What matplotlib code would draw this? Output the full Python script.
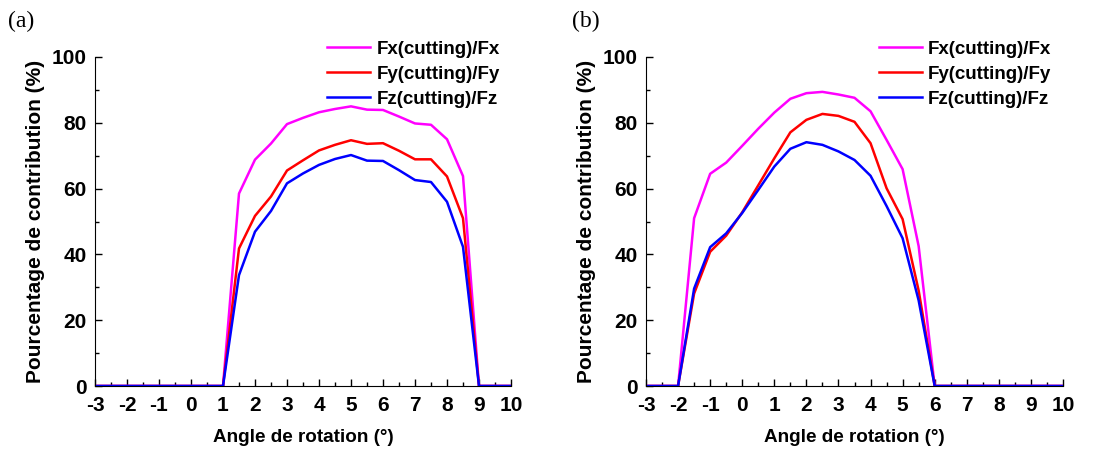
import matplotlib
matplotlib.use("Agg")
import matplotlib.pyplot as plt
from matplotlib.ticker import MultipleLocator

plt.rcParams['font.family'] = ['Liberation Sans', 'DejaVu Sans']
plt.rcParams['font.weight'] = 'bold'
plt.rcParams['axes.unicode_minus'] = False

angle = [-3, -2.5, -2, -1.5, -1, -0.5, 0, 0.5, 1, 1.5, 2, 2.5, 3, 3.5, 4, 4.5,
         5, 5.5, 6, 6.5, 7, 7.5, 8, 8.5, 9, 9.5, 10]

# panel (a)
fx_a = [0, 0, 0, 0, 0, 0, 0, 0, 0, 58.5, 68.8, 73.7, 79.6, 81.5, 83.2, 84.2,
        85.0, 84.0, 83.9, 81.9, 79.8, 79.4, 75.0, 63.8, 0, 0, 0]
fy_a = [0, 0, 0, 0, 0, 0, 0, 0, 0, 41.8, 51.7, 57.6, 65.5, 68.6, 71.6, 73.3,
        74.7, 73.6, 73.8, 71.5, 68.9, 68.9, 63.7, 51.0, 0, 0, 0]
fz_a = [0, 0, 0, 0, 0, 0, 0, 0, 0, 33.7, 46.9, 53.2, 61.6, 64.6, 67.2, 69.0,
        70.2, 68.5, 68.4, 65.6, 62.6, 62.0, 56.0, 42.3, 0, 0, 0]

# panel (b)
fx_b = [0, 0, 0, 51.0, 64.5, 67.9, 73.0, 78.2, 83.1, 87.3, 89.0, 89.4, 88.6,
        87.6, 83.5, 74.8, 65.9, 42.5, 0, 0, 0, 0, 0, 0, 0, 0, 0]
fy_b = [0, 0, 0, 28.1, 40.8, 45.7, 52.8, 61.0, 69.2, 77.1, 80.9, 82.7, 82.1,
        80.3, 73.8, 60.1, 50.7, 29.0, 0, 0, 0, 0, 0, 0, 0, 0, 0]
fz_b = [0, 0, 0, 29.6, 42.2, 46.4, 52.6, 59.6, 66.7, 72.1, 74.1, 73.3, 71.3,
        68.7, 63.9, 54.7, 44.9, 26.0, 0, 0, 0, 0, 0, 0, 0, 0, 0]

labels = ['Fx(cutting)/Fx', 'Fy(cutting)/Fy', 'Fz(cutting)/Fz']
colors = ['#ff00ff', '#ff0000', '#0000ff']

fig = plt.figure(figsize=(11.16, 4.55), dpi=100)
ax_a = fig.add_axes([95 / 1116, 69 / 455, 416 / 1116, 329 / 455])
ax_b = fig.add_axes([646 / 1116, 69 / 455, 417 / 1116, 329 / 455])

for ax, series, tag, tx in [(ax_a, [fx_a, fy_a, fz_a], '(a)', 8 / 1116),
                            (ax_b, [fx_b, fy_b, fz_b], '(b)', 572 / 1116)]:
    for y, lab, c in zip(series, labels, colors):
        ax.plot(angle, y, color=c, lw=1.8, label=lab)
    ax.set_xlim(-3, 10)
    ax.set_ylim(0, 100)
    ax.xaxis.set_major_locator(MultipleLocator(1))
    ax.xaxis.set_minor_locator(MultipleLocator(0.5))
    ax.yaxis.set_major_locator(MultipleLocator(20))
    ax.yaxis.set_minor_locator(MultipleLocator(10))
    ax.tick_params(which='both', direction='in', width=1, labelsize=15)
    ax.tick_params(which='major', length=5)
    ax.tick_params(which='minor', length=3)
    ax.tick_params(axis='x', pad=7)
    ax.tick_params(axis='y', pad=6)
    for s in ['top', 'right']:
        ax.spines[s].set_visible(False)
    ax.set_xlabel('Angle de rotation (°)', fontsize=13.6, fontweight='bold', labelpad=10)
    ax.set_ylabel('Pourcentage de contribution (%)', fontsize=15, fontweight='bold', labelpad=5)
    ax.legend(loc='upper left', bbox_to_anchor=(0.558, 1.05), frameon=False,
              fontsize=13.5, handlelength=2.3, handletextpad=0.32, labelspacing=0.42,
              borderaxespad=0, borderpad=0)
    fig.text(tx, 0.952, tag, fontsize=17, family='Liberation Serif',
             fontweight='normal', va='center')

plt.savefig('out.png', dpi=100)
